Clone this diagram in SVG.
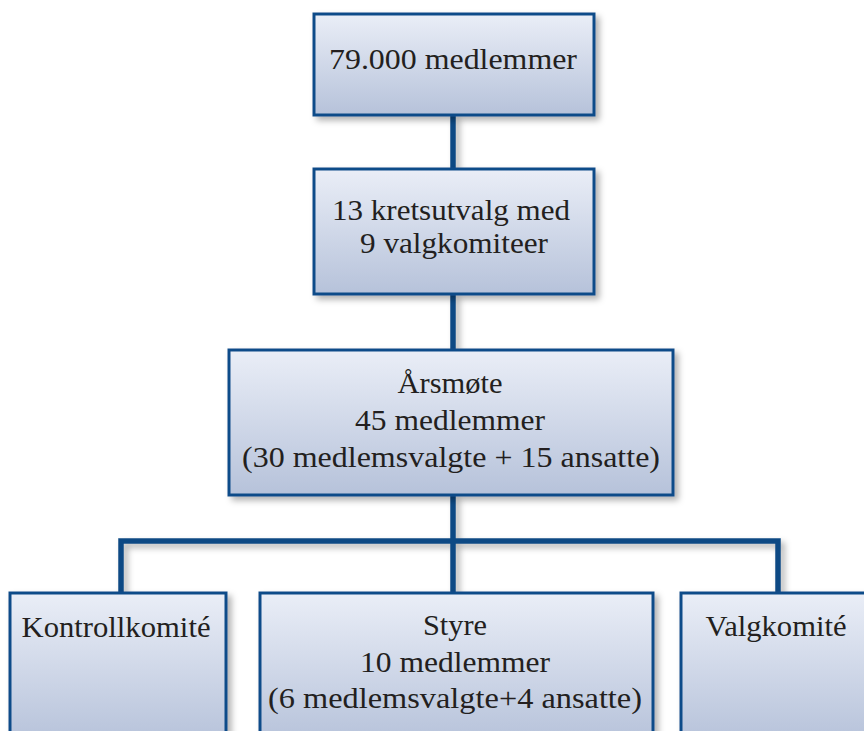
<svg xmlns="http://www.w3.org/2000/svg" width="864" height="731" viewBox="0 0 864 731">
<defs>
<linearGradient id="g" x1="0" y1="0" x2="0" y2="1">
<stop offset="0" stop-color="#eaeef7"/>
<stop offset="1" stop-color="#b6c2da"/>
</linearGradient>
<filter id="sh" x="-10%" y="-10%" width="130%" height="130%">
<feDropShadow dx="4" dy="4" stdDeviation="3" flood-color="#000" flood-opacity="0.3"/>
</filter>
<style>
.box{fill:url(#g);stroke:#104c89;stroke-width:3;filter:url(#sh)}
.ln{fill:none;stroke:#0a4a84;stroke-width:5.5;filter:url(#sh)}
text{font-family:"Liberation Serif","DejaVu Serif",serif;font-size:30px;fill:#231f20;text-anchor:middle}
</style>
</defs>
<g id="connectors">
<path class="ln" d="M453 115V168M453 294V349M453 495V592M121 592V541H778V592"/>
</g>
<g id="n1">
<rect class="box" x="314" y="14" width="280" height="101"/>
<text x="453" y="69" textLength="248" lengthAdjust="spacingAndGlyphs">79.000 medlemmer</text>
</g>
<g id="n2">
<rect class="box" x="314" y="169" width="280" height="125"/>
<text x="451" y="220" textLength="238" lengthAdjust="spacingAndGlyphs">13 kretsutvalg med</text>
<text x="454" y="253" textLength="188" lengthAdjust="spacingAndGlyphs">9 valgkomiteer</text>
</g>
<g id="n3">
<rect class="box" x="229" y="350" width="444" height="145"/>
<text x="450" y="393" textLength="105" lengthAdjust="spacingAndGlyphs">Årsmøte</text>
<text x="450" y="430" textLength="190" lengthAdjust="spacingAndGlyphs">45 medlemmer</text>
<text x="451" y="467" textLength="418" lengthAdjust="spacingAndGlyphs">(30 medlemsvalgte + 15 ansatte)</text>
</g>
<g id="n4">
<rect class="box" x="10" y="593" width="216" height="150"/>
<text x="116" y="637" textLength="189" lengthAdjust="spacingAndGlyphs">Kontrollkomité</text>
</g>
<g id="n5">
<rect class="box" x="260" y="593" width="393" height="150"/>
<text x="455" y="635" textLength="64" lengthAdjust="spacingAndGlyphs">Styre</text>
<text x="455" y="672" textLength="190" lengthAdjust="spacingAndGlyphs">10 medlemmer</text>
<text x="455" y="708" textLength="374" lengthAdjust="spacingAndGlyphs">(6 medlemsvalgte+4 ansatte)</text>
</g>
<g id="n6">
<rect class="box" x="681" y="593" width="200" height="150"/>
<text x="776" y="636" textLength="141" lengthAdjust="spacingAndGlyphs">Valgkomité</text>
</g>
</svg>
